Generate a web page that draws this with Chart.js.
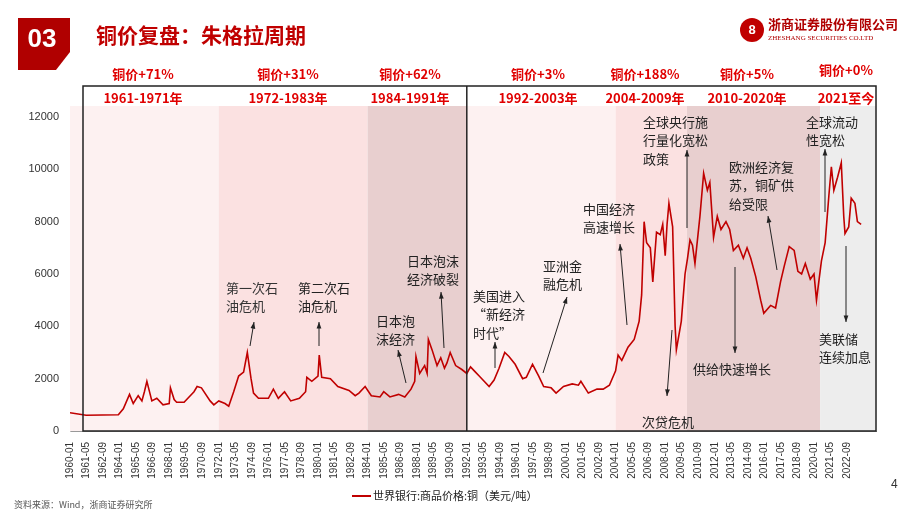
<!DOCTYPE html>
<html>
<head>
<meta charset="utf-8">
<script src="https://cdn.jsdelivr.net/npm/chart.js@4"></script>
<style>
  body { margin: 0; background: #fff; }
  #wrap { position: relative; width: 920px; height: 518px; overflow: hidden; font-family: "Noto Sans CJK SC", sans-serif; }
  canvas { position: absolute; left: 0; top: 0; }
</style>
</head>
<body>
<div id="wrap"><canvas id="chart" width="920" height="518"></canvas></div>
<script>
// copper price (USD/t), decimal year -> value
const years = [1960.0, 1961.3, 1963.9, 1964.3, 1964.8, 1965.1, 1965.5, 1965.8, 1966.0, 1966.2, 1966.6, 1967.0, 1967.5, 1968.0, 1968.1, 1968.4, 1968.6, 1969.2, 1970.0, 1970.25, 1970.6, 1971.3, 1971.6, 1972.0, 1972.5, 1972.8, 1973.2, 1973.6, 1974.0, 1974.3, 1974.6, 1974.8, 1975.2, 1976.0, 1976.4, 1976.8, 1977.3, 1977.8, 1978.5, 1979.0, 1979.1, 1979.5, 1980.0, 1980.1, 1980.3, 1981.0, 1981.6, 1982.5, 1983.0, 1983.3, 1983.8, 1984.3, 1985.0, 1985.3, 1985.8, 1986.5, 1987.0, 1987.5, 1987.8, 1987.9, 1988.2, 1988.6, 1988.8, 1988.9, 1989.2, 1989.6, 1989.9, 1990.2, 1990.4, 1990.66, 1991.1, 1991.6, 1992.0,
  1992.3, 1992.7, 1993.0, 1993.8, 1994.2, 1994.6, 1995.06, 1995.4, 1995.9, 1996.5, 1996.8, 1997.3, 1997.8, 1998.2, 1998.8, 1999.2, 1999.8, 2000.5, 2001.0, 2001.2, 2001.8, 2002.5, 2003.0, 2003.5, 2004.0, 2004.2, 2004.5, 2005.0, 2005.5, 2005.9, 2006.1, 2006.3, 2006.5, 2006.8, 2007.0, 2007.3, 2007.6, 2007.8, 2008.0, 2008.15, 2008.3, 2008.6, 2008.8, 2008.9, 2009.3, 2009.6, 2009.8, 2010.0, 2010.2, 2010.4, 2010.8, 2011.1, 2011.4, 2011.6, 2011.9, 2012.2, 2012.5, 2012.9, 2013.2, 2013.5, 2013.9, 2014.3, 2014.6, 2014.9, 2015.3, 2015.7, 2015.95, 2016.5, 2016.9, 2017.3, 2017.6, 2018.0, 2018.4, 2018.7, 2019.0, 2019.3, 2019.7, 2020.0, 2020.2, 2020.6, 2020.9, 2021.2, 2021.4, 2021.6, 2021.9, 2022.2, 2022.4, 2022.5, 2022.8, 2023.0, 2023.3, 2023.5, 2023.8];
const prices = [700, 600, 620, 850, 1400, 1050, 1350, 1150, 1500, 1900, 1150, 1250, 1000, 1050, 1650, 1200, 1100, 1100, 1500, 1700, 1650, 1150, 1000, 1150, 1050, 950, 1500, 2100, 2250, 3000, 2000, 1450, 1250, 1250, 1600, 1250, 1500, 1150, 1250, 1500, 2050, 1900, 2100, 2900, 2050, 2000, 1700, 1550, 1350, 1450, 1700, 1350, 1300, 1500, 1300, 1400, 1300, 1600, 1900, 2850, 2200, 2500, 2200, 3500, 3100, 2500, 2800, 2400, 2600, 3000, 2500, 2350, 2200,
  2450, 2250, 2100, 1700, 1950, 2400, 3000, 2850, 2550, 2000, 2050, 2550, 2100, 1700, 1650, 1450, 1700, 1800, 1750, 1900, 1450, 1600, 1600, 1750, 2300, 2900, 2700, 3200, 3500, 4200, 5200, 8000, 7200, 7000, 5700, 7600, 7500, 7900, 6700, 7900, 8700, 7800, 4000, 3100, 4200, 6000, 6600, 7300, 7100, 6400, 8200, 9850, 9200, 9500, 7400, 8200, 7700, 8000, 7700, 6900, 7100, 6600, 7000, 6600, 5900, 5000, 4500, 4800, 4700, 5700, 6300, 7050, 6900, 6100, 6000, 6400, 5800, 6000, 5000, 6500, 7200, 9000, 10100, 9200, 9700, 10250, 8200, 7550, 7800, 8900, 8700, 8000, 7900];

// cycle bands
const bandStart = [1960.0, 1972.0, 1984.0, 1992.0, 2004.0, 2009.75, 2020.5];
const bandEnd = [1972.0, 1984.0, 1992.0, 2004.0, 2009.75, 2020.5, 2025.0];
const bandColors = ['#fdf1f1', '#fbe1e1', '#e8cfcf', '#fdf1f1', '#fbe1e1', '#e8cfcf', '#ededed'];
const bandPct = ['铜价+71%', '铜价+31%', '铜价+62%', '铜价+3%', '铜价+188%', '铜价+5%', '铜价+0%'];
const bandYears = ['1961-1971年', '1972-1983年', '1984-1991年', '1992-2003年', '2004-2009年', '2010-2020年', '2021至今'];
const bandCenters = [143, 288, 410, 538, 645, 747, 846];

// annotations: text lines, x, first line y, arrow from -> to
const notes = [
  { t: ['第一次石', '油危机'], x: 226, y: 288, a: [250, 346, 254, 322] },
  { t: ['第二次石', '油危机'], x: 298, y: 288, a: [319, 346, 319, 322] },
  { t: ['日本泡', '沫经济'], x: 376, y: 321, a: [406, 383, 398, 350] },
  { t: ['日本泡沫', '经济破裂'], x: 407, y: 261, a: [444, 348, 441, 292] },
  { t: ['美国进入', '“新经济', '时代”'], x: 473, y: 296, a: [495, 368, 495, 342] },
  { t: ['亚洲金', '融危机'], x: 543, y: 266, a: [543, 373, 567, 297] },
  { t: ['中国经济', '高速增长'], x: 583, y: 209, a: [627, 325, 620, 244] },
  { t: ['全球央行施', '行量化宽松', '政策'], x: 643, y: 122, a: [687, 228, 687, 150] },
  { t: ['欧洲经济复', '苏，铜矿供', '给受限'], x: 729, y: 167, a: [777, 270, 768, 216] },
  { t: ['供给快速增长'], x: 693, y: 369, a: [735, 267, 735, 353] },
  { t: ['次贷危机'], x: 642, y: 422, a: [672, 330, 667, 396] },
  { t: ['全球流动', '性宽松'], x: 806, y: 122, a: [825, 212, 825, 149] },
  { t: ['美联储', '连续加息'], x: 819, y: 339, a: [846, 246, 846, 322] }
];

const points = years.map((y, i) => ({ x: y, y: prices[i] }));

function arrow(ctx, x1, y1, x2, y2) {
  ctx.strokeStyle = '#222';
  ctx.fillStyle = '#222';
  ctx.lineWidth = 1;
  ctx.beginPath(); ctx.moveTo(x1, y1); ctx.lineTo(x2, y2); ctx.stroke();
  const ang = Math.atan2(y2 - y1, x2 - x1);
  ctx.beginPath();
  ctx.moveTo(x2, y2);
  ctx.lineTo(x2 - 7 * Math.cos(ang - 0.35), y2 - 7 * Math.sin(ang - 0.35));
  ctx.lineTo(x2 - 7 * Math.cos(ang + 0.35), y2 - 7 * Math.sin(ang + 0.35));
  ctx.closePath(); ctx.fill();
}

const decor = {
  id: 'decor',
  beforeDatasetsDraw(chart) {
    const ctx = chart.ctx, x = chart.scales.x, y = chart.scales.y;
    const bottom = y.getPixelForValue(0);
    ctx.save();
    for (let i = 0; i < bandStart.length; i++) {
      ctx.fillStyle = bandColors[i];
      const l = x.getPixelForValue(bandStart[i]), r = x.getPixelForValue(bandEnd[i]);
      ctx.fillRect(l, 106, r - l, bottom - 106);
    }
    ctx.restore();
  },
  afterDatasetsDraw(chart) {
    const ctx = chart.ctx, x = chart.scales.x, y = chart.scales.y;
    const bottom = y.getPixelForValue(0);
    ctx.save();
    // black frame
    ctx.strokeStyle = '#222'; ctx.lineWidth = 1.5;
    ctx.strokeRect(83, 86, 876 - 83, bottom - 86);
    const mid = x.getPixelForValue(1992.0);
    ctx.beginPath(); ctx.moveTo(mid, 86); ctx.lineTo(mid, bottom); ctx.stroke();
    // header rows
    ctx.fillStyle = '#e00000'; ctx.textAlign = 'center'; ctx.textBaseline = 'middle';
    ctx.font = 'bold 13px "Liberation Sans Narrow", "Noto Sans CJK SC", sans-serif';
    for (let i = 0; i < bandPct.length; i++) {
      ctx.fillText(bandPct[i], bandCenters[i], i === 6 ? 70 : 74);
      ctx.fillText(bandYears[i], bandCenters[i], 98);
    }
    // notes
    ctx.fillStyle = '#333'; ctx.textAlign = 'left'; ctx.textBaseline = 'middle';
    ctx.font = '13px "Noto Sans CJK SC", sans-serif';
    notes.forEach(n => {
      n.t.forEach((s, k) => ctx.fillText(s, n.x, n.y + k * 18.5));
      arrow(ctx, n.a[0], n.a[1], n.a[2], n.a[3]);
    });
    // legend
    ctx.strokeStyle = '#c00000'; ctx.lineWidth = 2;
    ctx.beginPath(); ctx.moveTo(352, 496); ctx.lineTo(371, 496); ctx.stroke();
    ctx.fillStyle = '#222'; ctx.font = '11px "Noto Sans CJK SC", sans-serif';
    ctx.fillText('世界银行:商品价格:铜（美元/吨）', 373, 496);
    ctx.fillStyle = '#555'; ctx.font = '9px "Noto Sans CJK SC", serif';
    ctx.fillText('资料来源：Wind，浙商证券研究所', 14, 505);
    ctx.fillStyle = '#333'; ctx.font = '12px "Liberation Sans", sans-serif';
    ctx.fillText('4', 891, 485);
    // title block
    ctx.fillStyle = '#b00000';
    ctx.beginPath();
    ctx.moveTo(18, 18); ctx.lineTo(70, 18); ctx.lineTo(70, 52); ctx.lineTo(56, 70); ctx.lineTo(18, 70);
    ctx.closePath(); ctx.fill();
    ctx.fillStyle = '#fff'; ctx.font = 'bold 26px "Liberation Sans", sans-serif';
    ctx.textAlign = 'center';
    ctx.fillText('03', 42, 40);
    ctx.fillStyle = '#c00000'; ctx.textAlign = 'left';
    ctx.font = 'bold 21px "Noto Sans CJK SC", sans-serif';
    ctx.fillText('铜价复盘：朱格拉周期', 96, 35);
    // logo
    ctx.beginPath(); ctx.arc(752, 30, 12, 0, Math.PI * 2); ctx.fillStyle = '#c00000'; ctx.fill();
    ctx.fillStyle = '#fff'; ctx.font = 'bold 13px sans-serif'; ctx.textAlign = 'center';
    ctx.fillText('8', 752, 30);
    ctx.textAlign = 'left'; ctx.fillStyle = '#b00000';
    ctx.font = 'bold 13px "Noto Sans CJK SC", sans-serif';
    ctx.fillText('浙商证券股份有限公司', 768, 24);
    ctx.font = '7px "Liberation Serif", serif';
    ctx.fillText('ZHESHANG SECURITIES CO.LTD', 768, 38);
    ctx.restore();
  }
};

new Chart(document.getElementById('chart'), {
  type: 'line',
  data: {
    datasets: [{
      data: points,
      borderColor: '#c00000',
      borderWidth: 1.6,
      pointRadius: 0,
      tension: 0
    }]
  },
  options: {
    responsive: false,
    animation: false,
    layout: { padding: { left: 20, right: 44, top: 117, bottom: 35 } },
    plugins: { legend: { display: false }, tooltip: { enabled: false } },
    scales: {
      x: {
        type: 'linear',
        min: 1960.0,
        max: 2025.0,
        grid: { display: false, drawTicks: true },
        border: { color: '#999' },
        afterBuildTicks(axis) {
          const t = [];
          for (let k = 0; 1960 + k * 16 / 12 <= 2023; k++) t.push({ value: 1960 + k * 16 / 12 });
          axis.ticks = t;
        },
        afterFit(axis) { axis.height = 52; },
        ticks: {
          autoSkip: false,
          maxRotation: 90,
          minRotation: 90,
          color: '#333',
          font: { size: 10, family: 'Liberation Sans' },
          callback(v) {
            const m = Math.round((v - 1960) * 12);
            const yy = 1960 + Math.floor(m / 12), mm = m % 12 + 1;
            return yy + '-' + (mm < 10 ? '0' : '') + mm;
          }
        }
      },
      y: {
        min: 0,
        max: 12000,
        grid: { display: false },
        border: { color: '#bbb' },
        afterFit(axis) { axis.width = 50; },
        ticks: { stepSize: 2000, color: '#333', font: { size: 11, family: 'Liberation Sans' }, callback: v => String(v) }
      }
    }
  },
  plugins: [decor]
});
</script>
</body>
</html>
